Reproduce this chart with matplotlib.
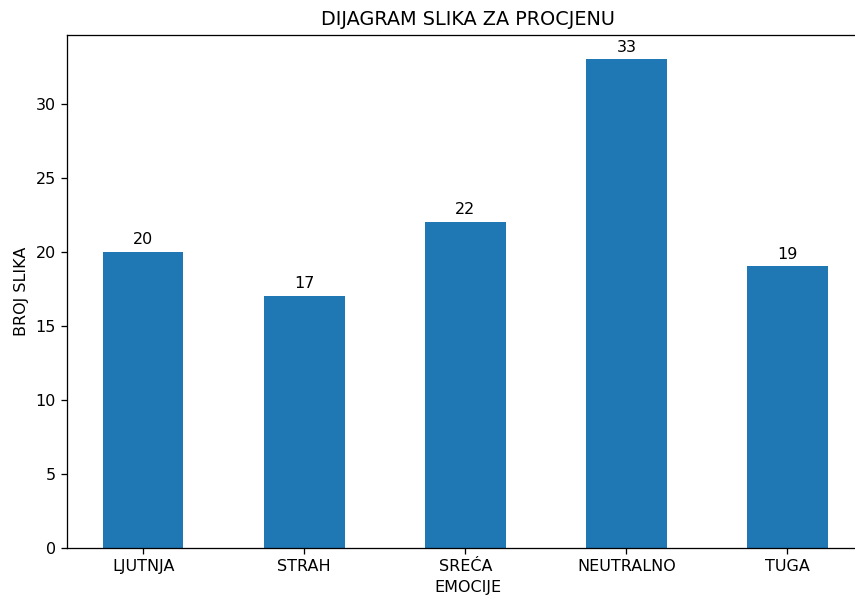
import matplotlib
matplotlib.use("Agg")
import matplotlib.pyplot as plt

emocije = ["LJUTNJA", "STRAH", "SREĆA", "NEUTRALNO", "TUGA"]
broj_slika = [20, 17, 22, 33, 19]

DPI = 115.7


def main():
    fig = plt.figure(figsize=(855 / DPI, 597 / DPI), dpi=DPI)
    # axes runs a little past the right edge, as in the cropped reference
    ax = fig.add_axes([67 / 855, 1 - 547.5 / 597, 801 / 855, (547.5 - 35) / 597])

    x = range(len(emocije))
    bars = ax.bar(x, broj_slika, width=0.5, color="#1f77b4")
    ax.bar_label(bars, padding=3)

    ax.set_xticks(list(x))
    ax.set_xticklabels(emocije)
    ax.set_xlim(-0.473, 4.5)
    ax.set_ylim(0, 34.65)

    ax.set_title("DIJAGRAM SLIKA ZA PROCJENU")
    ax.set_xlabel("EMOCIJE")
    ax.set_ylabel("BROJ SLIKA")

    fig.savefig("out.png", dpi=DPI)


if __name__ == "__main__":
    main()
